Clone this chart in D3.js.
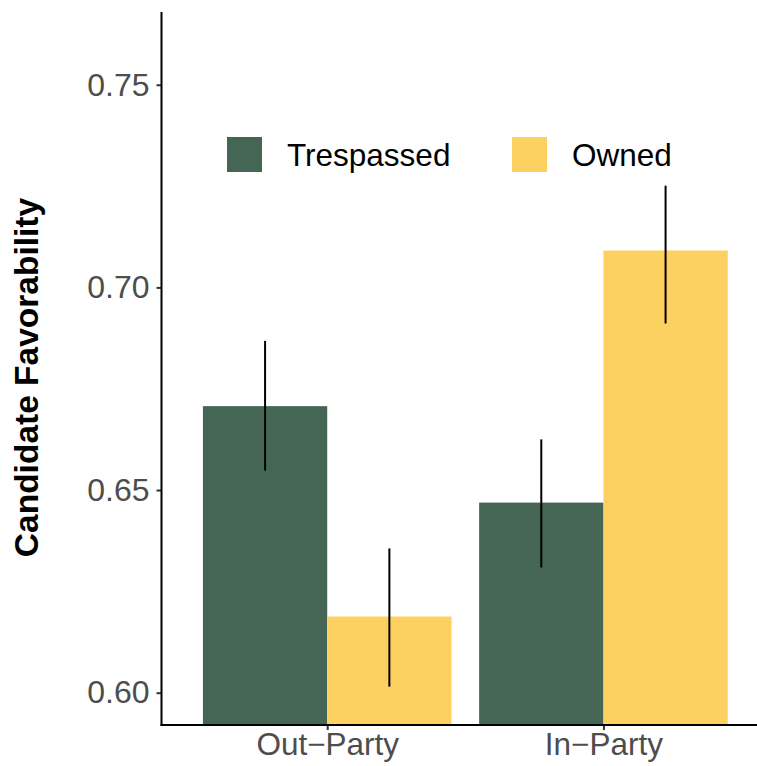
<!DOCTYPE html>
<html>
<head>
<meta charset="utf-8">
<script src="https://cdn.jsdelivr.net/npm/d3@7"></script>
<style>
  html, body { margin: 0; padding: 0; background: #fff; }
  svg { display: block; font-family: "Liberation Sans", Arial, Helvetica, sans-serif; }
</style>
</head>
<body>
<svg id="chart" width="757" height="766"></svg>
<script>
// Party groups along the x axis and the two treatment conditions
const groups = ["Out\u2212Party", "In\u2212Party"];
const conditions = ["Trespassed", "Owned"];

// Mean favorability per group, one array per condition (order follows `groups`)
const trespassedMean = [0.6707, 0.6469];
const ownedMean = [0.6188, 0.7091];

// Confidence interval bounds
const trespassedLow = [0.6548, 0.6309];
const trespassedHigh = [0.6868, 0.6625];
const ownedLow = [0.6015, 0.6911];
const ownedHigh = [0.6356, 0.7251];

const yTicks = [0.60, 0.65, 0.70, 0.75];

const colors = { Trespassed: "#456555", Owned: "#FDD062" };

const rows = [];
groups.forEach((g, i) => {
  rows.push({ group: g, idx: i + 1, cond: "Trespassed", mean: trespassedMean[i], lo: trespassedLow[i], hi: trespassedHigh[i] });
  rows.push({ group: g, idx: i + 1, cond: "Owned", mean: ownedMean[i], lo: ownedLow[i], hi: ownedHigh[i] });
});

const svg = d3.select("#chart");
const panelLeft = 161.5, panelRight = 757, panelTop = 12, panelBottom = 725;

// Discrete positions 1..2 on a continuous axis, ggplot-style expansion
const x = d3.scaleLinear().domain([0.4, 2.556]).range([panelLeft, panelRight]);
const y = d3.scaleLinear().domain([0.59203, 0.76795]).range([panelBottom, panelTop]);

const dodge = 0.45;
const offset = { Trespassed: -dodge / 2, Owned: dodge / 2 };
const barW = x(dodge) - x(0);

// Bars
svg.append("g").selectAll("rect").data(rows).join("rect")
  .attr("x", d => x(d.idx + offset[d.cond]) - barW / 2)
  .attr("width", barW)
  .attr("y", d => y(d.mean))
  .attr("height", d => y(y.domain()[0]) - y(d.mean))
  .attr("fill", d => colors[d.cond]);

// Error bars
svg.append("g").selectAll("line").data(rows).join("line")
  .attr("x1", d => x(d.idx + offset[d.cond]))
  .attr("x2", d => x(d.idx + offset[d.cond]))
  .attr("y1", d => y(d.hi))
  .attr("y2", d => y(d.lo))
  .attr("stroke", "#000")
  .attr("stroke-width", 2);

// Y axis
const yAxis = d3.axisLeft(y).tickValues(yTicks).tickFormat(d3.format(".2f")).tickSize(5).tickPadding(7);
const gy = svg.append("g").attr("transform", `translate(${panelLeft},0)`).call(yAxis);
gy.select(".domain").remove();
gy.selectAll(".tick line").attr("stroke", "#333").attr("stroke-width", 2);
gy.selectAll(".tick text").attr("fill", "#4D4D4D").attr("font-size", 32).attr("font-family", null);

// X axis
const xAxis = d3.axisBottom(x).tickValues([1, 2]).tickFormat(d => groups[d - 1]).tickSize(5).tickPadding(3);
const gx = svg.append("g").attr("transform", `translate(0,${panelBottom})`).call(xAxis);
gx.select(".domain").remove();
gx.selectAll(".tick line").attr("stroke", "#333").attr("stroke-width", 2);
gx.selectAll(".tick text").attr("fill", "#4D4D4D").attr("font-size", 31.5).attr("font-family", null);

// Axis lines
svg.append("line").attr("x1", panelLeft).attr("x2", panelLeft).attr("y1", panelTop).attr("y2", panelBottom + 1)
  .attr("stroke", "#000").attr("stroke-width", 2);
svg.append("line").attr("x1", panelLeft - 1).attr("x2", panelRight).attr("y1", panelBottom).attr("y2", panelBottom)
  .attr("stroke", "#000").attr("stroke-width", 2);

// Y axis title
svg.append("text")
  .attr("transform", `translate(38,377.5) rotate(-90)`)
  .attr("text-anchor", "middle")
  .attr("font-weight", "bold")
  .attr("font-size", 33.5)
  .attr("fill", "#000")
  .text("Candidate Favorability");

// Legend
const legendItems = [
  { cond: "Trespassed", x: 227 },
  { cond: "Owned", x: 512 }
];
const lg = svg.append("g");
legendItems.forEach(it => {
  lg.append("rect").attr("x", it.x).attr("y", 137).attr("width", 35).attr("height", 35).attr("fill", colors[it.cond]);
  lg.append("text").attr("x", it.x + 60).attr("y", 165.5).attr("font-size", 31.5).attr("fill", "#000").text(it.cond);
});
</script>
</body>
</html>
